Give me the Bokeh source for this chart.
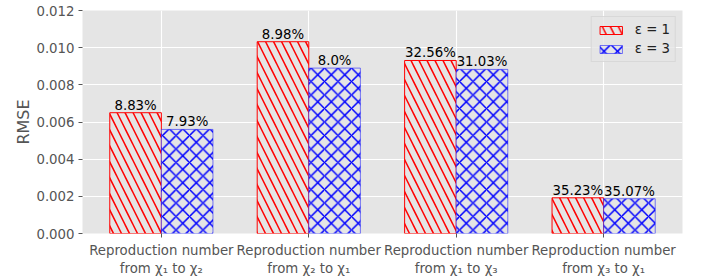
from bokeh.plotting import figure
from bokeh.models import ColumnDataSource, FixedTicker, NumeralTickFormatter, Legend, LegendItem, Range1d
from bokeh.transform import dodge
from bokeh.core.properties import value
from bokeh.embed import file_html
from bokeh.resources import INLINE

# ---- data ----
categories = [
    "Reproduction number\nfrom χ₁ to χ₂",
    "Reproduction number\nfrom χ₂ to χ₁",
    "Reproduction number\nfrom χ₁ to χ₃",
    "Reproduction number\nfrom χ₃ to χ₁",
]
rmse_eps1 = [0.0065, 0.01032, 0.00931, 0.00192]
rmse_eps3 = [0.0056, 0.0089, 0.00883, 0.00187]
pct_eps1 = ["8.83%", "8.98%", "32.56%", "35.23%"]
pct_eps3 = ["7.93%", "8.0%", "31.03%", "35.07%"]
series_names = ["ε = 1", "ε = 3"]
y_ticks = [0.0, 0.002, 0.004, 0.006, 0.008, 0.010, 0.012]

xs = list(range(len(categories)))
src1 = ColumnDataSource(dict(x=xs, y=rmse_eps1, t=pct_eps1))
src3 = ColumnDataSource(dict(x=xs, y=rmse_eps3, t=pct_eps3))

FONT = "DejaVu Sans"
GRAY = "#555555"
BG = "#E5E5E5"

p = figure(frame_width=600, frame_height=223, output_backend="svg", toolbar_location=None,
           x_range=Range1d(-0.535, 3.535), y_range=Range1d(0, 0.012),
           min_border_left=82, min_border_right=28, min_border_top=10, min_border_bottom=10)
p.background_fill_color = BG
p.border_fill_color = "white"
p.outline_line_color = None

for g in (p.xgrid, p.ygrid):
    g.grid_line_color = "white"
    g.grid_line_width = 1.1
p.xgrid.ticker = FixedTicker(ticks=xs)
p.ygrid.ticker = FixedTicker(ticks=y_ticks)

w = 0.35
r1 = p.vbar(x=dodge("x", -w / 2, range=p.x_range), top="y", width=w, source=src1,
            fill_color=BG, line_color="red", line_width=1,
            hatch_pattern="left_diagonal_line", hatch_color="red", hatch_scale=16, hatch_weight=1.5)
r3 = p.vbar(x=dodge("x", w / 2, range=p.x_range), top="y", width=w, source=src3,
            fill_color=BG, line_color="blue", line_alpha=0.5, line_width=1,
            hatch_pattern="diagonal_cross", hatch_color="blue", hatch_scale=13.5, hatch_weight=1.5)

for src, off in ((src1, -w / 2), (src3, w / 2)):
    p.text(x=dodge("x", off, range=p.x_range), y="y", text="t", source=src,
           text_align="center", text_baseline="bottom", y_offset=0,
           text_font=value(FONT), text_font_size="13.3px", text_color="black")

# axes
p.xaxis.ticker = FixedTicker(ticks=xs)
p.xaxis.major_label_overrides = {i: c for i, c in enumerate(categories)}
p.xaxis.axis_label = None
p.yaxis.ticker = FixedTicker(ticks=y_ticks)
p.yaxis.formatter = NumeralTickFormatter(format="0.000")
p.yaxis.axis_label = "RMSE"
p.yaxis.axis_label_text_font_size = "16px"
p.yaxis.axis_label_text_font_style = "normal"
p.yaxis.axis_label_text_color = GRAY
p.yaxis.axis_label_text_font = FONT
p.yaxis.axis_label_standoff = 0
for ax in (p.xaxis, p.yaxis):
    ax.axis_line_color = None
    ax.major_tick_line_color = GRAY
    ax.major_tick_out = 4
    ax.major_tick_in = 0
    ax.minor_tick_line_color = None
    ax.major_label_text_font = FONT
    ax.major_label_text_font_size = "13.3px"
    ax.major_label_text_color = GRAY
p.xaxis.major_label_standoff = 5
p.yaxis.major_label_standoff = 4

legend = Legend(items=[LegendItem(label=series_names[0], renderers=[r1]),
                       LegendItem(label=series_names[1], renderers=[r3])],
                location="top_right")
legend.margin = 6
legend.padding = 5
legend.spacing = 4
legend.glyph_width = 28
legend.glyph_height = 10
legend.label_standoff = 10
legend.label_text_font = FONT
legend.label_text_font_size = "13.3px"
legend.label_text_color = "#222222"
legend.background_fill_color = BG
legend.background_fill_alpha = 0.8
legend.border_line_color = "#CCCCCC"
legend.border_line_width = 1
p.add_layout(legend)

open("out.html", "w").write(file_html(p, INLINE))
